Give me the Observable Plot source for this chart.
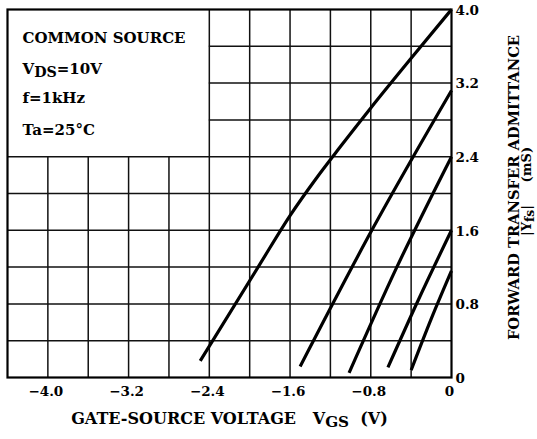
<!DOCTYPE html>
<html>
<head>
<meta charset="utf-8">
<script src="https://cdn.jsdelivr.net/npm/d3@7"></script>
<script src="https://cdn.jsdelivr.net/npm/@observablehq/plot@0.6"></script>
<style>
  html, body { margin: 0; padding: 0; background: #fff; }
  #chart svg { display: block; }
</style>
</head>
<body>
<div id="chart"></div>
<script>
// ---- data ----
const xTicks = [-4.0, -3.2, -2.4, -1.6, -0.8, 0];
const yTicks = [0, 0.8, 1.6, 2.4, 3.2, 4.0];
const xGrid = [-4.0, -3.6, -3.2, -2.8, -2.4, -2.0, -1.6, -1.2, -0.8, -0.4];
const yGrid = [0.4, 0.8, 1.2, 1.6, 2.0, 2.4, 2.8, 3.2, 3.6];

const vgs1 = [-2.49, -1.9, -1.6, -1.35, -1.1, -0.8, -0.4, 0];
const yfs1 = [0.18, 1.23, 1.76, 2.15, 2.51, 2.93, 3.47, 4.0];
const vgs2 = [-1.5, -0.79, 0];
const yfs2 = [0.12, 1.6, 3.12];
const vgs3 = [-1.015, -0.55, 0];
const yfs3 = [0.05, 1.18, 2.4];
const vgs4 = [-0.63, -0.33, 0];
const yfs4 = [0.11, 0.84, 1.6];
const vgs5 = [-0.4, -0.2, 0];
const yfs5 = [0.08, 0.64, 1.16];

const conditions = ["COMMON SOURCE", "V{DS}=10V", "f=1kHz", "Ta=25°C"];
const xLabel = "GATE-SOURCE VOLTAGE\u00a0\u00a0\u00a0V{GS}\u00a0\u00a0(V)";
const yLabel1 = "FORWARD TRANSFER ADMITTANCE";
const yLabel2 = "|Y{fs}|\u00a0\u00a0\u00a0\u00a0\u00a0(mS)";

// ---- build table ----
const curves = [[vgs1, yfs1], [vgs2, yfs2], [vgs3, yfs3], [vgs4, yfs4], [vgs5, yfs5]];
const rows = curves.flatMap(([xs, ys], i) => xs.map((x, j) => ({curve: i, vgs: x, yfs: ys[j]})));

const FONT = "DejaVu Serif";
const fmt = d => d === 0 ? "0" : (d < 0 ? "\u2212" : "") + Math.abs(d).toFixed(1);
const boxBaselines = [33.5, 64.5, 93.5, 125.5];

const chart = Plot.plot({
  width: 537,
  height: 439,
  marginTop: 9,
  marginRight: 86,
  marginBottom: 62,
  marginLeft: 7,
  style: {fontFamily: FONT, background: "#fff"},
  x: {domain: [-4.4, 0], axis: null},
  y: {domain: [0, 4.0], axis: null},
  marks: [
    Plot.ruleX(xGrid, {x: d => d, y1: 0, y2: d => d < -2.4 ? 2.4 : 4.0, stroke: "#111", strokeWidth: 1.5}),
    Plot.ruleY(yGrid, {y: d => d, x1: d => d > 2.4 ? -2.4 : -4.4, x2: 0, stroke: "#111", strokeWidth: 1.5}),
    Plot.frame({stroke: "#000", strokeWidth: 2.2}),
    Plot.line(rows, {x: "vgs", y: "yfs", z: "curve", curve: "monotone-x", stroke: "#000", strokeWidth: 3.2, strokeLinecap: "butt"}),
    Plot.text(yTicks, {y: d => d, text: fmt, frameAnchor: "right", textAnchor: "start", dx: 4, dy: 1, fontSize: 13.5, fontWeight: "bold", fill: "#000"}),
    Plot.text(xTicks, {x: d => d, text: fmt, frameAnchor: "bottom", lineAnchor: "top", dy: 9, dx: -2, fontSize: 13.5, fontWeight: "bold", fill: "#000"}),
    ...conditions.map((c, i) => Plot.text([c], {text: d => d, frameAnchor: "top-left", textAnchor: "start", lineAnchor: "bottom", dx: 15, dy: boxBaselines[i], fontSize: 15, fontWeight: "bold", fill: "#000"})),
    Plot.text([xLabel], {text: d => d, frameAnchor: "bottom", textAnchor: "middle", lineAnchor: "bottom", dx: 0, dy: 46, fontSize: 16, fontWeight: "bold", fill: "#000"}),
    Plot.text([yLabel1], {text: d => d, frameAnchor: "right", rotate: -90, textAnchor: "middle", lineAnchor: "bottom", dx: 67, dy: -6, fontSize: 14.7, fontWeight: "bold", fill: "#000"}),
    Plot.text([yLabel2], {text: d => d, frameAnchor: "right", rotate: -90, textAnchor: "middle", lineAnchor: "bottom", dx: 79, dy: -2, fontSize: 13, fontWeight: "bold", fill: "#000"})
  ]
});

// turn {..} into lowered subscripts
d3.select(chart).selectAll("text").each(function () {
  const t = this.textContent;
  if (!t.includes("{")) return;
  const parts = t.split(/(\{[^}]*\})/).filter(p => p);
  const el = d3.select(this);
  const shift = parseFloat(el.attr("font-size")) > 13.5 ? 4 : 3;
  el.text(null);
  let shifted = false;
  for (const p of parts) {
    if (p.startsWith("{")) {
      el.append("tspan").attr("dy", shift).attr("font-size", "0.95em").text(p.slice(1, -1));
      shifted = true;
    } else {
      const ts = el.append("tspan").text(p);
      if (shifted) { ts.attr("dy", -shift); shifted = false; }
    }
  }
});

document.getElementById("chart").appendChild(chart);
</script>
</body>
</html>
